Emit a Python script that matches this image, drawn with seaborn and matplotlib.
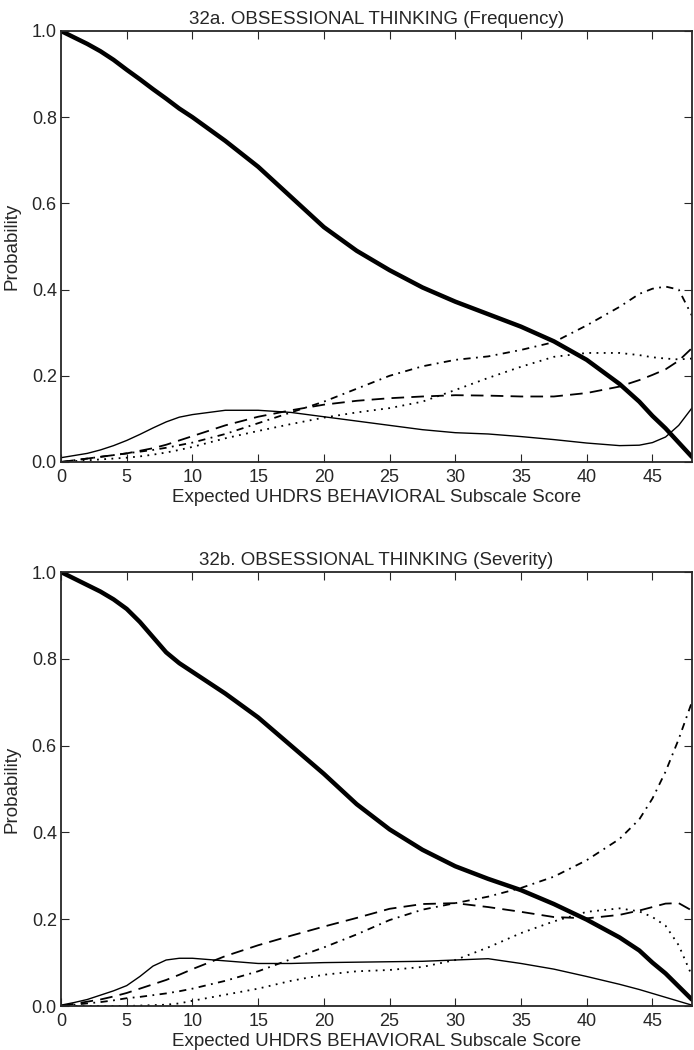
import matplotlib
matplotlib.use('Agg')
import matplotlib.pyplot as plt
import pandas as pd
import seaborn as sns

# Expected score grid shared by both panels
score = [0, 1, 2, 3, 4, 5, 6, 7, 8, 9, 10, 12.5, 15, 17.5, 20, 22.5, 25,
         27.5, 30, 32.5, 35, 37.5, 40, 42.5, 44, 45, 46, 47, 48]

# 32a. Frequency
freq_0 = [1.0, 0.985, 0.97, 0.953, 0.933, 0.91, 0.888, 0.865, 0.843, 0.82,
          0.80, 0.745, 0.685, 0.615, 0.545, 0.49, 0.445, 0.405, 0.372,
          0.343, 0.314, 0.28, 0.237, 0.181, 0.14, 0.107, 0.078, 0.045, 0.012]
freq_1 = [0.01, 0.015, 0.02, 0.028, 0.038, 0.05, 0.064, 0.079, 0.093, 0.104,
          0.11, 0.12, 0.12, 0.115, 0.105, 0.095, 0.085, 0.075, 0.068, 0.065,
          0.059, 0.052, 0.044, 0.038, 0.039, 0.045, 0.058, 0.085, 0.125]
freq_2 = [0.0, 0.004, 0.008, 0.012, 0.016, 0.02, 0.026, 0.032, 0.04, 0.05,
          0.06, 0.085, 0.105, 0.12, 0.133, 0.142, 0.148, 0.152, 0.155,
          0.154, 0.152, 0.152, 0.16, 0.175, 0.19, 0.202, 0.215, 0.235, 0.264]
freq_3 = [0.0, 0.002, 0.004, 0.006, 0.008, 0.01, 0.013, 0.017, 0.022, 0.028,
          0.035, 0.055, 0.072, 0.088, 0.103, 0.115, 0.125, 0.14, 0.167,
          0.195, 0.221, 0.244, 0.253, 0.253, 0.248, 0.243, 0.24, 0.238, 0.24]
freq_4 = [0.0, 0.004, 0.008, 0.012, 0.016, 0.02, 0.024, 0.028, 0.033, 0.039,
          0.045, 0.065, 0.09, 0.115, 0.14, 0.17, 0.20, 0.222, 0.237, 0.245,
          0.26, 0.278, 0.317, 0.36, 0.39, 0.402, 0.407, 0.40, 0.34]

# 32b. Severity
sev_0 = [1.0, 0.985, 0.97, 0.955, 0.937, 0.915, 0.885, 0.85, 0.815, 0.79,
         0.77, 0.72, 0.665, 0.60, 0.535, 0.465, 0.407, 0.36, 0.322, 0.293,
         0.267, 0.235, 0.199, 0.158, 0.128, 0.10, 0.075, 0.045, 0.015]
sev_1 = [0.002, 0.008, 0.015, 0.025, 0.035, 0.047, 0.068, 0.092, 0.106,
         0.11, 0.11, 0.104, 0.098, 0.098, 0.1, 0.101, 0.102, 0.103, 0.106,
         0.109, 0.098, 0.085, 0.068, 0.05, 0.038, 0.029, 0.02, 0.011, 0.002]
sev_2 = [0.0, 0.005, 0.01, 0.015, 0.022, 0.03, 0.04, 0.05, 0.06, 0.072,
         0.085, 0.115, 0.14, 0.162, 0.183, 0.203, 0.224, 0.235, 0.237,
         0.228, 0.217, 0.205, 0.202, 0.21, 0.22, 0.228, 0.236, 0.237, 0.22]
sev_3 = [0.0, 0.0, 0.0, 0.0, 0.0, 0.0, 0.001, 0.002, 0.003, 0.006, 0.012,
         0.026, 0.04, 0.058, 0.072, 0.08, 0.083, 0.09, 0.106, 0.135, 0.168,
         0.195, 0.217, 0.225, 0.218, 0.205, 0.185, 0.14, 0.07]
sev_4 = [0.0, 0.003, 0.006, 0.009, 0.013, 0.018, 0.021, 0.025, 0.029, 0.034,
         0.04, 0.058, 0.08, 0.108, 0.135, 0.165, 0.198, 0.222, 0.237, 0.252,
         0.272, 0.298, 0.336, 0.385, 0.43, 0.478, 0.54, 0.615, 0.70]

titles = ['32a. OBSESSIONAL THINKING (Frequency)',
          '32b. OBSESSIONAL THINKING (Severity)']
x_label = 'Expected UHDRS BEHAVIORAL Subscale Score'
x_ticks = [0, 5, 10, 15, 20, 25, 30, 35, 40, 45]
y_ticks = [0.0, 0.2, 0.4, 0.6, 0.8, 1.0]

sns.set_style('ticks')
plt.rcParams['font.family'] = ['Liberation Sans', 'DejaVu Sans']

# line looks for categories 0..4
styles = [
    dict(lw=3.2, linestyle='-'),
    dict(lw=1.0, linestyle='-'),
    dict(lw=1.3, linestyle=(0, (7, 4))),
    dict(lw=1.3, linestyle=(0, (1, 3))),
    dict(lw=1.3, linestyle=(0, (4, 3, 1, 3))),
]

fig = plt.figure(figsize=(6.94, 10.5), dpi=100)
ax_top = fig.add_axes([0.0879, 0.560, 0.909, 0.4105])
ax_bot = fig.add_axes([0.0879, 0.0419, 0.909, 0.4133])

panels = [(ax_top, [freq_0, freq_1, freq_2, freq_3, freq_4]),
          (ax_bot, [sev_0, sev_1, sev_2, sev_3, sev_4])]

for i, (ax, series) in enumerate(panels):
    for vals, st in zip(series, styles):
        df = pd.DataFrame({'score': score, 'prob': vals})
        sns.lineplot(data=df, x='score', y='prob', ax=ax, color='black',
                     **st)
    ax.set_xlim(0, 48)
    ax.set_ylim(0, 1.0)
    ax.set_xticks(x_ticks)
    ax.set_yticks(y_ticks)
    ax.set_yticklabels([f'{v:.1f}' for v in y_ticks])
    ax.tick_params(direction='in', length=6, width=0.8, top=True,
                   right=True, labelsize=13)
    ax.tick_params(axis='x', pad=5)
    ax.tick_params(axis='y', pad=3)
    for sp in ax.spines.values():
        sp.set_linewidth(1.3)
    ax.set_title(titles[i], fontsize=13.5, pad=5)
    ax.set_xlabel(x_label, fontsize=13.5, labelpad=2)
    ax.set_ylabel('Probability', fontsize=13.5, labelpad=8)

fig.savefig('out.png', dpi=100)
